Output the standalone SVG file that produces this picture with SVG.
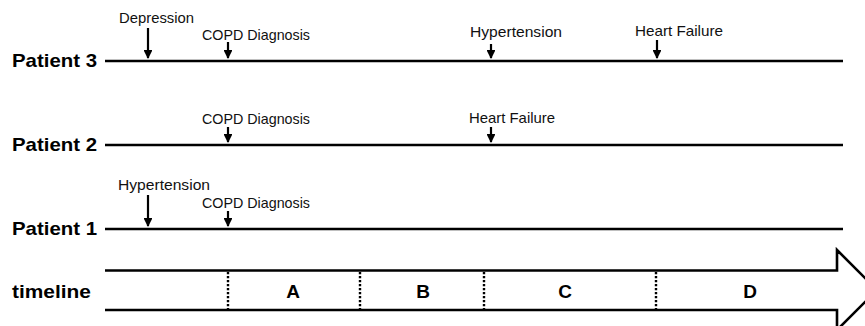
<svg xmlns="http://www.w3.org/2000/svg" width="865" height="326" viewBox="0 0 865 326">
<style>
.lbl{font-family:"Liberation Sans",Arial,sans-serif;font-weight:bold;font-size:18.5px;fill:#000}
.ev{font-family:"Liberation Sans",Arial,sans-serif;font-size:14.5px;fill:#111}
.seg{font-family:"Liberation Sans",Arial,sans-serif;font-weight:bold;font-size:19px;fill:#000;text-anchor:middle}
.tl{stroke:#000;stroke-width:2.6;fill:none}
.arr{stroke:#000;stroke-width:2.2;fill:none;marker-end:url(#ah)}
.dot{stroke:#000;stroke-width:2.4;stroke-dasharray:2.2 1.8;fill:none}
</style>
<defs>
<marker id="ah" viewBox="0 0 10 10" refX="9" refY="5" markerWidth="4.2" markerHeight="4" orient="auto" markerUnits="strokeWidth">
<path d="M0,0 L10,5 L0,10 z" fill="#000"/>
</marker>
</defs>
<rect width="865" height="326" fill="#fff"/>
<g id="patient3">
<text class="lbl" x="12" y="67" textLength="85" lengthAdjust="spacingAndGlyphs">Patient 3</text>
<line class="tl" x1="105" y1="61" x2="843" y2="61"/>
</g>
<g id="patient2">
<text class="lbl" x="12" y="151" textLength="85" lengthAdjust="spacingAndGlyphs">Patient 2</text>
<line class="tl" x1="105" y1="145" x2="843" y2="145"/>
</g>
<g id="patient1">
<text class="lbl" x="12" y="235" textLength="85" lengthAdjust="spacingAndGlyphs">Patient 1</text>
<line class="tl" x1="105" y1="229" x2="843" y2="229"/>
</g>
<g id="timeline">
<text class="lbl" x="12" y="298" textLength="79" lengthAdjust="spacingAndGlyphs">timeline</text>
<path class="tl" d="M105,270.5 H837 V250 L877,290 L837,330 V310 H105"/>
<line class="dot" x1="228" y1="272" x2="228" y2="309"/>
<line class="dot" x1="360" y1="272" x2="360" y2="309"/>
<line class="dot" x1="484" y1="272" x2="484" y2="309"/>
<line class="dot" x1="656" y1="272" x2="656" y2="309"/>
<text class="seg" x="293" y="298">A</text>
<text class="seg" x="423" y="298">B</text>
<text class="seg" x="565" y="298">C</text>
<text class="seg" x="750" y="298">D</text>
</g>
<g id="events-p3">
<text class="ev" x="119" y="23" textLength="75" lengthAdjust="spacingAndGlyphs">Depression</text>
<text class="ev" x="202" y="40" textLength="108" lengthAdjust="spacingAndGlyphs">COPD Diagnosis</text>
<text class="ev" x="470" y="37" textLength="92" lengthAdjust="spacingAndGlyphs">Hypertension</text>
<text class="ev" x="635" y="36" textLength="88" lengthAdjust="spacingAndGlyphs">Heart Failure</text>
</g>
<g id="events-p2">
<text class="ev" x="202" y="124" textLength="108" lengthAdjust="spacingAndGlyphs">COPD Diagnosis</text>
<text class="ev" x="469" y="123" textLength="86" lengthAdjust="spacingAndGlyphs">Heart Failure</text>
</g>
<g id="events-p1">
<text class="ev" x="118" y="190" textLength="92" lengthAdjust="spacingAndGlyphs">Hypertension</text>
<text class="ev" x="202" y="208" textLength="108" lengthAdjust="spacingAndGlyphs">COPD Diagnosis</text>
</g>
<g id="connectors">
<line class="arr" x1="148" y1="28" x2="148" y2="58"/>
<line class="arr" x1="228" y1="42" x2="228" y2="58"/>
<line class="arr" x1="491" y1="44" x2="491" y2="58"/>
<line class="arr" x1="657" y1="40" x2="657" y2="58"/>
<line class="arr" x1="228" y1="127" x2="228" y2="142"/>
<line class="arr" x1="491" y1="127" x2="491" y2="142"/>
<line class="arr" x1="148" y1="195" x2="148" y2="226"/>
<line class="arr" x1="228" y1="211" x2="228" y2="226"/>
</g>
</svg>
